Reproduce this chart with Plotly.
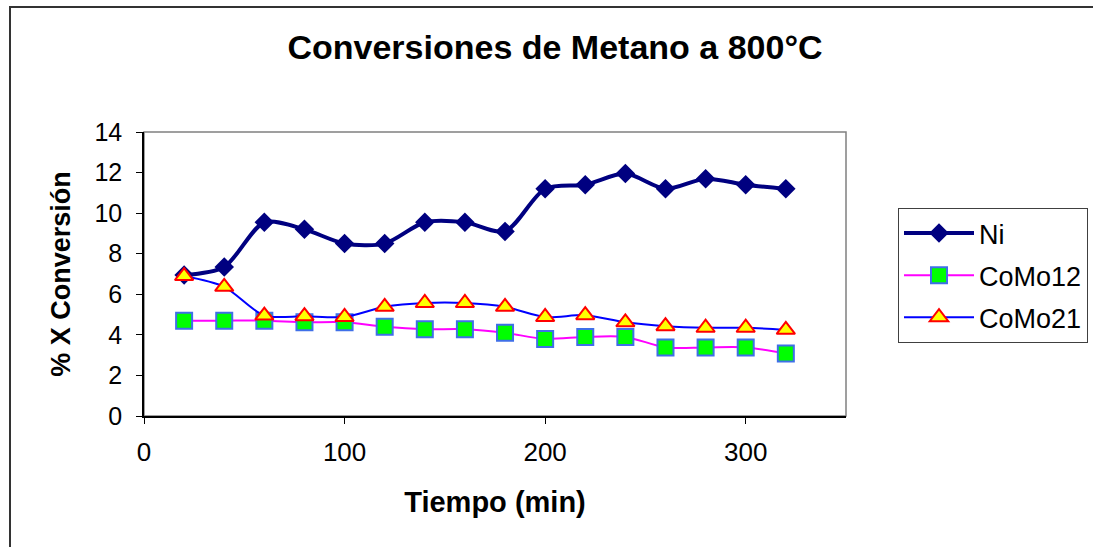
import plotly.graph_objects as go

tiempo = [20, 40, 60, 80, 100, 120, 140, 160, 180, 200, 220, 240, 260, 280, 300, 320]
ni = [6.95, 7.35, 9.55, 9.2, 8.5, 8.5, 9.55, 9.55, 9.1, 11.2, 11.4, 11.95, 11.2, 11.7, 11.4, 11.2]
como12 = [4.7, 4.7, 4.7, 4.62, 4.62, 4.4, 4.28, 4.28, 4.1, 3.8, 3.9, 3.9, 3.38, 3.38, 3.38, 3.08]
como21 = [6.9, 6.37, 4.95, 4.92, 4.88, 5.38, 5.57, 5.57, 5.38, 4.88, 4.97, 4.62, 4.43, 4.35, 4.35, 4.25]
y_ticks = [0, 2, 4, 6, 8, 10, 12, 14]
x_ticks = [0, 100, 200, 300]

FONT = "Liberation Sans, Arial, sans-serif"

fig = go.Figure()
fig.add_trace(go.Scatter(
    x=tiempo, y=ni, name="Ni", mode="lines+markers",
    line=dict(color="#000080", width=4, shape="spline", smoothing=0.8),
    marker=dict(symbol="diamond", size=15, color="#000080", line=dict(width=0)),
    legendgroup="a"))
fig.add_trace(go.Scatter(
    x=tiempo, y=como12, name="CoMo12", mode="lines+markers",
    line=dict(color="#FF00FF", width=2, shape="spline", smoothing=0.8),
    marker=dict(symbol="square", size=16, color="#00FF00", line=dict(width=2, color="#3F6FE8")),
    legendgroup="b"))
fig.add_trace(go.Scatter(
    x=tiempo, y=como21, name="CoMo21", mode="lines+markers",
    line=dict(color="#0000FF", width=2, shape="spline", smoothing=0.8),
    marker=dict(symbol="triangle-up", size=16, color="#FFFF00", line=dict(width=2, color="#FF0000")),
    legendgroup="c"))

L, R, T, B = 144, 846, 132, 416
W, H = 1093, 547
pw, ph = R - L, B - T

def px(xp):
    return (xp - L) / pw

def py(yp):
    return (B - yp) / ph

fig.update_layout(
    width=W, height=H,
    margin=dict(l=L, r=W - R, t=T, b=H - B, pad=0, autoexpand=False),
    paper_bgcolor="white", plot_bgcolor="white",
    font=dict(family=FONT, color="black"),
    title=dict(text="<b>Conversiones de Metano a 800°C</b>", x=555 / W, xanchor="center",
               y=1 - 47 / H, yanchor="middle", font=dict(size=34, family=FONT, color="black")),
    xaxis=dict(range=[0, 350], tickvals=x_ticks, ticks="outside", ticklen=6, tickcolor="black",
               showline=True, linecolor="black", linewidth=1.5, showgrid=False, zeroline=False,
               tickfont=dict(size=26, family=FONT), ticklabelstandoff=6,
               title=dict(text="<b>Tiempo (min)</b>", font=dict(size=29, family=FONT), standoff=26)),
    yaxis=dict(range=[0, 14], tickvals=y_ticks, ticks="outside", ticklen=6, tickcolor="black",
               showline=True, linecolor="black", linewidth=1.5, showgrid=False, zeroline=False,
               tickfont=dict(size=25, family=FONT), ticklabelstandoff=9,
               title=dict(text="<b>% X Conversión</b>", font=dict(size=27, family=FONT), standoff=16)),
    legend=dict(xref="container", yref="container", x=898 / W, xanchor="left",
                y=1 - 208 / H, yanchor="top",
                bordercolor="#404040", borderwidth=1, bgcolor="white",
                font=dict(size=27, family=FONT), itemwidth=70, tracegroupgap=4,
                traceorder="grouped"),
    showlegend=True,
    shapes=[
        dict(type="rect", xref="paper", yref="paper", x0=0, x1=1, y0=0, y1=1,
             line=dict(color="#808080", width=1.5), layer="below"),
        dict(type="rect", xref="paper", yref="paper", x0=px(10), x1=px(W + 10), y0=py(H + 10), y1=py(7),
             line=dict(color="#333333", width=2), layer="below"),
    ],
)

fig.write_html("out.html", config={"displayModeBar": False},
               post_script="document.body.style.margin='0';document.body.style.padding='0';")
